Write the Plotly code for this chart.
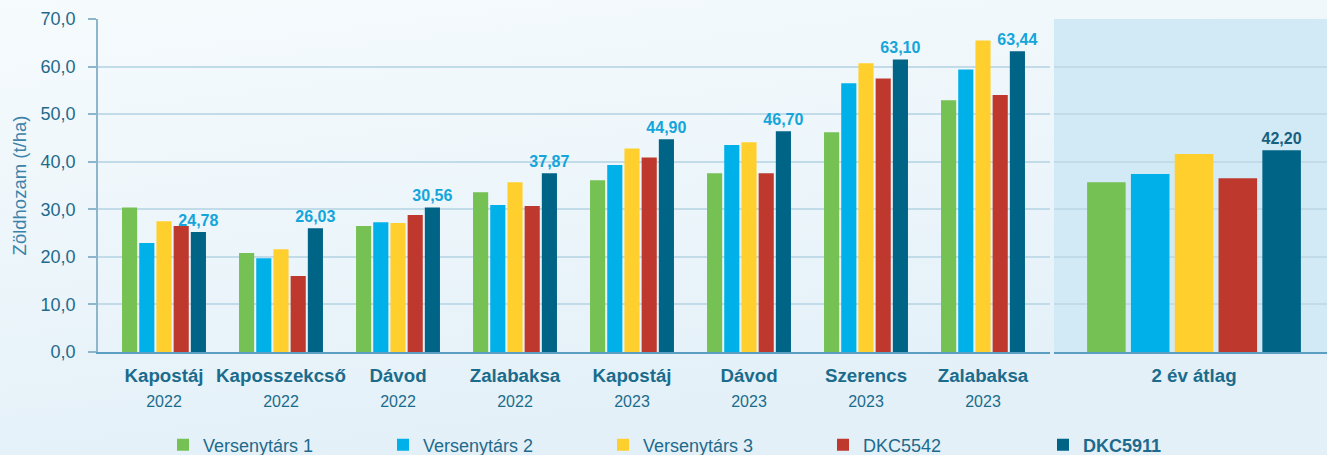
import base64
import plotly.graph_objects as go

# ---------------- data ----------------
sites = ["Kapostáj", "Kaposszekcső", "Dávod", "Zalabaksa",
         "Kapostáj", "Dávod", "Szerencs", "Zalabaksa"]
years = ["2022", "2022", "2022", "2022", "2023", "2023", "2023", "2023"]
avg_label = "2 év átlag"

series_names = ["Versenytárs 1", "Versenytárs 2", "Versenytárs 3", "DKC5542", "DKC5911"]

versenytars1 = [30.4, 20.8, 26.5, 33.6, 36.1, 37.6, 46.2, 52.9]
versenytars2 = [22.9, 19.7, 27.3, 30.9, 39.3, 43.5, 56.5, 59.4]
versenytars3 = [27.5, 21.6, 27.1, 35.7, 42.8, 44.1, 60.7, 65.5]
dkc5542 = [26.5, 16.0, 28.8, 30.7, 40.9, 37.6, 57.5, 54.0]
dkc5911 = [25.2, 26.0, 30.4, 37.6, 44.7, 46.4, 61.5, 63.2]

avg_values = [35.7, 37.4, 41.6, 36.5, 42.4]

dkc5911_labels = ["24,78", "26,03", "30,56", "37,87", "44,90", "46,70", "63,10", "63,44"]
avg_dkc5911_label = "42,20"

# ---------------- style ----------------
colors = ["#75C153", "#00B1E9", "#FFD02D", "#BE382E", "#006487"]
FONT = "Liberation Sans, Arial, Helvetica, sans-serif"
W, H = 1327, 455
ML, MR, MT, MB = 98, 0, 19, 103
PW, PH = W - ML - MR, H - MT - MB
main_end_px = 952
avg_start_px = 956

cats = [f"{s} {y}" for s, y in zip(sites, years)]
ticktext = [f"<b>{s}</b><br><span style='font-size:16px'>{y}</span>" for s, y in zip(sites, years)]

series = [versenytars1, versenytars2, versenytars3, dkc5542, dkc5911]

fig = go.Figure()
for i, (name, vals) in enumerate(zip(series_names, series)):
    is_last = i == len(series_names) - 1
    fig.add_trace(go.Bar(
        x=cats, y=vals, name=(f"<b>{name}</b>" if is_last else name),
        marker=dict(color=colors[i], line=dict(width=0)),
        xaxis="x", yaxis="y", legendgroup=name,
        text=[f"<b>{t}</b>" for t in dkc5911_labels] if is_last else None,
        textposition="outside" if is_last else None,
        textfont=dict(family=FONT, size=16, color="#14A5DA"),
        constraintext="none", cliponaxis=False,
        hoverinfo="skip",
    ))
for i, name in enumerate(series_names):
    is_last = i == len(series_names) - 1
    fig.add_trace(go.Bar(
        x=[avg_label], y=[avg_values[i]], name=name, showlegend=False,
        marker=dict(color=colors[i], line=dict(width=0)),
        xaxis="x2", yaxis="y", legendgroup=name,
        text=[f"<b>{avg_dkc5911_label}</b>"] if is_last else None,
        textposition="outside" if is_last else None,
        textfont=dict(family=FONT, size=16, color="#17607F"),
        constraintext="none", cliponaxis=False,
        hoverinfo="skip",
    ))

# background gradient as an inline svg
svg = (f'<svg xmlns="http://www.w3.org/2000/svg" width="{W}" height="{H}">'
       '<defs><linearGradient id="g" x1="0" y1="0" x2="0.35" y2="1">'
       '<stop offset="0" stop-color="#F6FBFD"/><stop offset="1" stop-color="#E3F0F8"/>'
       '</linearGradient></defs>'
       f'<rect width="{W}" height="{H}" fill="url(#g)"/></svg>')
src = "data:image/svg+xml;base64," + base64.b64encode(svg.encode()).decode()

fig.add_layout_image(dict(
    source=src, xref="paper", yref="paper",
    x=-ML / PW, y=1 + MT / PH, sizex=W / PW, sizey=H / PH,
    xanchor="left", yanchor="top", sizing="stretch", layer="below", opacity=1,
))

# shaded panel behind the average group
fig.add_shape(type="rect", xref="x2 domain", yref="y", x0=0, x1=1, y0=0, y1=70,
              fillcolor="#D2EAF6", line=dict(width=0), layer="below")

stride = 117.0
r0 = -(164 - ML) / stride
cat2 = 298.0
r2 = -(1194 - (ML + avg_start_px)) / cat2

axis_font = dict(family=FONT, size=18.7, color="#1B6C8C")
fig.update_layout(
    width=W, height=H,
    margin=dict(l=ML, r=MR, t=MT, b=MB),
    paper_bgcolor="#EAF4FA", plot_bgcolor="rgba(0,0,0,0)",
    separators=", ",
    barmode="group", bargap=0.265, bargroupgap=0.12,
    font=dict(family=FONT, color="#1B6C8C"),
    xaxis=dict(domain=[0, main_end_px / PW], range=[r0, r0 + main_end_px / stride],
               tickvals=cats, ticktext=ticktext, tickfont=axis_font,
               showline=True, linecolor="#5C9DC2", linewidth=2,
               ticks="outside", ticklen=6, tickcolor="rgba(0,0,0,0)",
               showgrid=False, zeroline=False, anchor="y", fixedrange=True),
    xaxis2=dict(domain=[avg_start_px / PW, 1], range=[r2, r2 + (W - ML - avg_start_px) / cat2],
                tickvals=[avg_label], ticktext=[f"<b>{avg_label}</b>"], tickfont=axis_font,
                showline=True, linecolor="#5C9DC2", linewidth=2,
                ticks="outside", ticklen=6, tickcolor="rgba(0,0,0,0)",
                showgrid=False, zeroline=False, anchor="y", fixedrange=True),
    yaxis=dict(range=[0, 70], dtick=10, tickformat=".1f",
               tickfont=dict(family=FONT, size=18, color="#1E6A8C"),
               showgrid=True, gridcolor="#C2DBE9", gridwidth=1.5,
               showline=True, linecolor="#8DB6CC", linewidth=1.5,
               ticks="outside", ticklen=8, tickcolor="#8DB6CC", tickwidth=1.5,
               ticklabelstandoff=9,
               zeroline=False, anchor="x",
               title=dict(text="Zöldhozam (t/ha)", standoff=9,
                          font=dict(family=FONT, size=18.5, color="#3B83AA"))),
    legend=dict(orientation="h", xref="container", yref="container",
                x=163 / W, xanchor="left", y=(H - 445) / H, yanchor="middle",
                entrywidth=175, entrywidthmode="pixels",
                font=dict(family=FONT, size=18, color="#1E6A8C"),
                bgcolor="rgba(0,0,0,0)", traceorder="normal"),
)

fig.write_html("out.html")
